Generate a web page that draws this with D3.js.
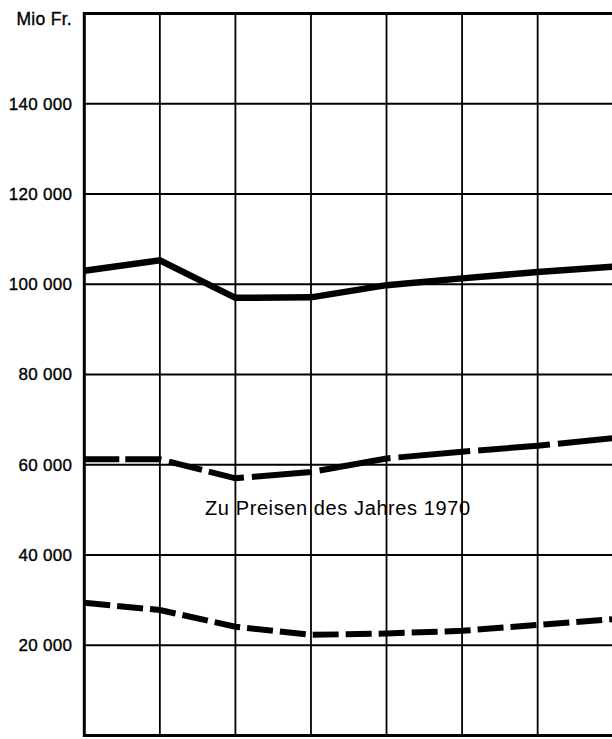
<!DOCTYPE html>
<meta charset="utf-8">
<script src="https://cdn.jsdelivr.net/npm/d3@7"></script>
<style>
  body { margin: 0; background: #fff; }
  svg { display: block; overflow: hidden; }
  text { font-family: "Liberation Sans", Arial, sans-serif; fill: #000; }
</style>
<div id="vis"></div>
<script>
// periods along the x axis (no labels printed in the original)
const periods = [0, 1, 2, 3, 4, 5, 6, 7]

// Mio Fr.
const nominal = [103000, 105300, 97000, 97100, 99800, 101300, 102700, 103900]
const real1970 = [61200, 61200, 57000, 58400, 61400, 62900, 64200, 65900]
const lower = [29400, 27800, 24100, 22300, 22600, 23200, 24500, 25800]

const yTicks = [20000, 40000, 60000, 80000, 100000, 120000, 140000]
const unitLabel = "Mio Fr."
const seriesLabel = "Zu Preisen des Jahres 1970"

const W = 612, H = 739
const margin = {top: 13.5, right: -1.2, bottom: 3.5, left: 84.3}
const width = W - margin.left - margin.right
const height = H - margin.top - margin.bottom

const x = d3.scaleLinear().domain([0, 7]).range([0, width])
const y = d3.scaleLinear().domain([0, 160000]).range([height, 0])

const fmt = d => d3.format(",")(d).replace(",", " ")

const svg = d3.select("#vis").append("svg")
  .attr("width", W)
  .attr("height", H)

const g = svg.append("g")
  .attr("transform", `translate(${margin.left},${margin.top})`)

// grid
g.selectAll(".hgrid")
  .data(yTicks)
  .enter().append("line")
  .attr("x1", 0).attr("x2", width)
  .attr("y1", d => y(d)).attr("y2", d => y(d))
  .attr("stroke", "#000").attr("stroke-width", 1.8)

g.selectAll(".vgrid")
  .data(periods.slice(1))
  .enter().append("line")
  .attr("x1", d => x(d)).attr("x2", d => x(d))
  .attr("y1", 0).attr("y2", height)
  .attr("stroke", "#000").attr("stroke-width", 1.8)

// frame (left, top, bottom)
g.append("path")
  .attr("d", `M${width},0H0V${height}H${width}`)
  .attr("fill", "none")
  .attr("stroke", "#000")
  .attr("stroke-width", 3)

// y labels
const yAxis = d3.axisLeft(y).tickValues(yTicks).tickSize(0).tickPadding(12).tickFormat(fmt)
g.append("g").call(yAxis)
  .attr("font-family", null)
  .attr("font-size", null)
  .call(a => a.select(".domain").remove())
  .selectAll("text")
  .style("font-size", "17px")
  .style("letter-spacing", "0.3px")
  .attr("stroke", "#000")
  .attr("stroke-width", 0.35)

svg.append("text")
  .attr("x", 72).attr("y", 25)
  .attr("text-anchor", "end")
  .style("font-size", "17.5px")
  .style("letter-spacing", "0.3px")
  .attr("stroke", "#000")
  .attr("stroke-width", 0.35)
  .text(unitLabel)

// lines
const line = d3.line()
  .x((d, i) => x(periods[i]))
  .y(d => y(d))

g.append("path").datum(nominal)
  .attr("d", line)
  .attr("fill", "none").attr("stroke", "#000")
  .attr("stroke-width", 6.5)

g.append("path").datum(real1970)
  .attr("d", line)
  .attr("fill", "none").attr("stroke", "#000")
  .attr("stroke-width", 6)
  .attr("stroke-dasharray", "35,6,36,8,34,7,36,8,60,8,72,8,72,8,72,8,72,8")

g.append("path").datum(lower)
  .attr("d", line)
  .attr("fill", "none").attr("stroke", "#000")
  .attr("stroke-width", 6)
  .attr("stroke-dasharray", "26,7")

svg.append("text")
  .attr("x", 205).attr("y", 515)
  .style("font-size", "20px")
  .style("letter-spacing", "0.6px")
  .text(seriesLabel)
</script>
